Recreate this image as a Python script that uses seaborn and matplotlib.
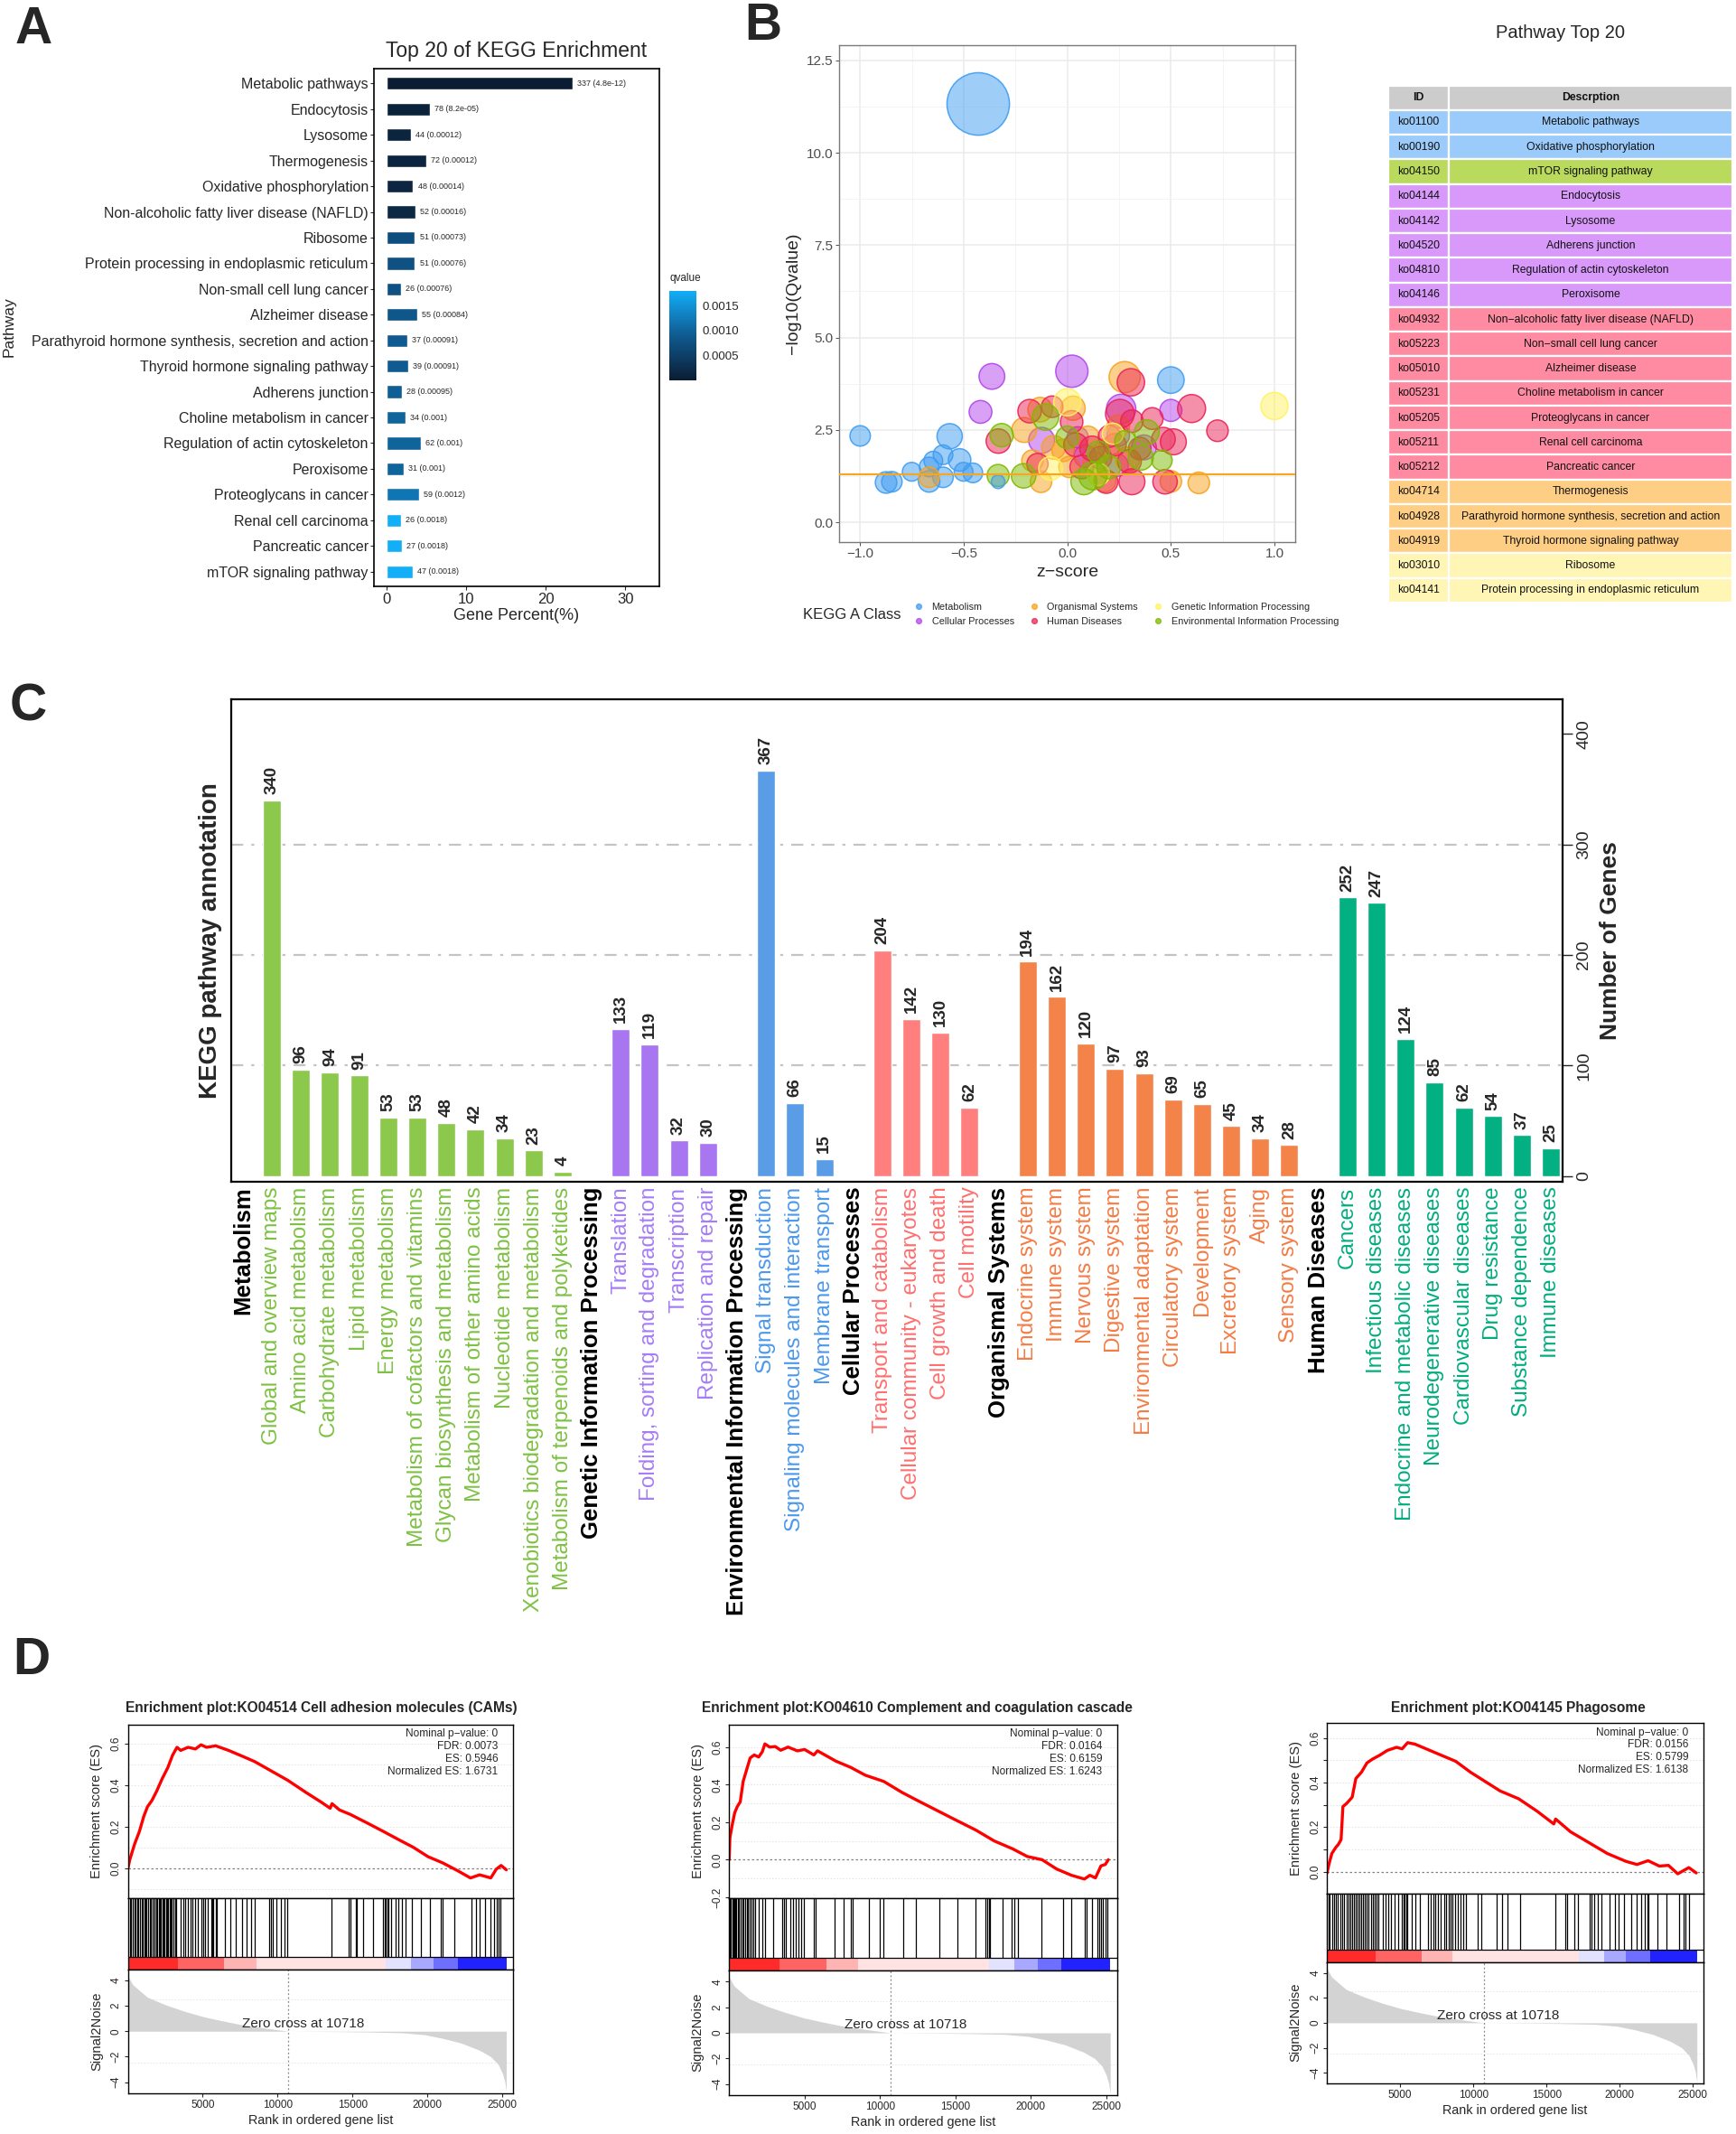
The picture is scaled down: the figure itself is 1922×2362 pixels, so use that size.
import numpy as np
import pandas as pd
import matplotlib
matplotlib.use('Agg')
import matplotlib.pyplot as plt
import seaborn as sns
from matplotlib.colors import LinearSegmentedColormap, Normalize
from matplotlib.cm import ScalarMappable
from matplotlib.lines import Line2D
from matplotlib.transforms import Bbox

sns.set_style('white')
plt.rcParams['font.family'] = ['Liberation Sans', 'DejaVu Sans']
plt.rcParams['axes.unicode_minus'] = True

W, H = 1922, 2362
fig = plt.figure(figsize=(W / 100, H / 100), dpi=100)


def px_axes(x0, y0, x1, y1):
    return fig.add_axes([x0 / W, 1 - y1 / H, (x1 - x0) / W, (y1 - y0) / H])


def ftext(x, y, s, **kw):
    return fig.text(x / W, 1 - y / H, s, **kw)


# ---------------- data: panel A ----------------
a_pathway = ['Metabolic pathways', 'Endocytosis', 'Lysosome', 'Thermogenesis', 'Oxidative phosphorylation',
             'Non-alcoholic fatty liver disease (NAFLD)', 'Ribosome', 'Protein processing in endoplasmic reticulum',
             'Non-small cell lung cancer', 'Alzheimer disease', 'Parathyroid hormone synthesis, secretion and action',
             'Thyroid hormone signaling pathway', 'Adherens junction', 'Choline metabolism in cancer',
             'Regulation of actin cytoskeleton', 'Peroxisome', 'Proteoglycans in cancer', 'Renal cell carcinoma',
             'Pancreatic cancer', 'mTOR signaling pathway']
a_count = [337, 78, 44, 72, 48, 52, 51, 51, 26, 55, 37, 39, 28, 34, 62, 31, 59, 26, 27, 47]
a_percent = [23.4, 5.42, 3.06, 5.0, 3.33, 3.61, 3.54, 3.54, 1.81, 3.82, 2.57, 2.71, 1.94, 2.36, 4.31, 2.15,
             4.1, 1.81, 1.88, 3.26]
a_qvalue = [4.8e-12, 8.2e-05, 0.00012, 0.00012, 0.00014, 0.00016, 0.00073, 0.00076, 0.00076, 0.00084, 0.00091,
            0.00091, 0.00095, 0.001, 0.001, 0.001, 0.0012, 0.0018, 0.0018, 0.0018]

# ---------------- data: panel B bubbles ----------------
b_class_names = ['Metabolism', 'Cellular Processes', 'Organismal Systems', 'Human Diseases',
                 'Genetic Information Processing', 'Environmental Information Processing']
b_bubbles = [
    # z, -log10(q), count, class
    (-0.43, 11.32, 337, 'Metabolism'), (0.50, 3.85, 48, 'Metabolism'), (-1.0, 2.34, 22, 'Metabolism'),
    (-0.875, 1.08, 26, 'Metabolism'), (-0.847, 1.10, 22, 'Metabolism'), (-0.751, 1.37, 16, 'Metabolism'),
    (-0.667, 1.11, 26, 'Metabolism'), (-0.667, 1.50, 19, 'Metabolism'), (-0.60, 1.22, 22, 'Metabolism'),
    (-0.60, 1.83, 19, 'Metabolism'), (-0.647, 1.67, 16, 'Metabolism'), (-0.568, 2.33, 42, 'Metabolism'),
    (-0.52, 1.69, 30, 'Metabolism'), (-0.501, 1.37, 16, 'Metabolism'), (-0.456, 1.34, 19, 'Metabolism'),
    (0.022, 4.09, 78, 'Cellular Processes'), (-0.364, 3.95, 44, 'Cellular Processes'),
    (0.50, 3.03, 28, 'Cellular Processes'), (0.26, 3.07, 62, 'Cellular Processes'),
    (-0.419, 2.99, 31, 'Cellular Processes'), (-0.124, 2.22, 45, 'Cellular Processes'),
    (0.246, 2.36, 30, 'Cellular Processes'), (0.37, 2.03, 40, 'Cellular Processes'),
    (0.087, 1.79, 30, 'Cellular Processes'), (0.05, 2.30, 25, 'Cellular Processes'),
    (0.24, 1.55, 30, 'Cellular Processes'),
    (0.277, 3.93, 72, 'Organismal Systems'), (-0.131, 3.05, 39, 'Organismal Systems'),
    (0.028, 3.09, 37, 'Organismal Systems'), (-0.208, 2.50, 40, 'Organismal Systems'),
    (-0.168, 1.67, 26, 'Organismal Systems'), (-0.127, 1.10, 26, 'Organismal Systems'),
    (-0.667, 1.22, 22, 'Organismal Systems'), (-0.066, 2.03, 35, 'Organismal Systems'),
    (0.246, 2.60, 30, 'Organismal Systems'), (0.29, 1.71, 38, 'Organismal Systems'),
    (0.181, 1.13, 30, 'Organismal Systems'), (0.50, 1.11, 26, 'Organismal Systems'),
    (0.635, 1.07, 26, 'Organismal Systems'), (0.01, 1.50, 25, 'Organismal Systems'),
    (0.13, 1.60, 30, 'Organismal Systems'), (0.20, 2.00, 25, 'Organismal Systems'),
    (0.10, 2.30, 30, 'Organismal Systems'), (-0.02, 1.95, 30, 'Organismal Systems'),
    (0.307, 3.79, 52, 'Human Diseases'), (0.60, 3.08, 55, 'Human Diseases'), (-0.073, 3.13, 26, 'Human Diseases'),
    (-0.182, 3.01, 34, 'Human Diseases'), (0.254, 2.94, 59, 'Human Diseases'), (0.725, 2.48, 26, 'Human Diseases'),
    (0.41, 2.81, 27, 'Human Diseases'), (-0.333, 2.20, 38, 'Human Diseases'), (0.512, 2.18, 45, 'Human Diseases'),
    (0.464, 2.25, 35, 'Human Diseases'), (0.312, 2.74, 30, 'Human Diseases'), (0.021, 2.72, 30, 'Human Diseases'),
    (0.203, 2.33, 28, 'Human Diseases'), (0.30, 1.65, 35, 'Human Diseases'), (0.188, 1.10, 33, 'Human Diseases'),
    (0.312, 1.10, 45, 'Human Diseases'), (0.472, 1.10, 38, 'Human Diseases'), (-0.144, 1.58, 25, 'Human Diseases'),
    (0.04, 2.10, 35, 'Human Diseases'), (0.23, 2.10, 30, 'Human Diseases'), (0.12, 2.00, 40, 'Human Diseases'),
    (0.35, 2.00, 30, 'Human Diseases'), (0.07, 1.50, 35, 'Human Diseases'), (0.16, 1.75, 30, 'Human Diseases'),
    (1.0, 3.15, 51, 'Genetic Information Processing'), (0.0, 3.25, 51, 'Genetic Information Processing'),
    (-0.081, 1.46, 35, 'Genetic Information Processing'), (0.15, 1.30, 30, 'Genetic Information Processing'),
    (0.22, 2.40, 25, 'Genetic Information Processing'),
    (-0.105, 2.85, 47, 'Environmental Information Processing'), (-0.317, 2.36, 33, 'Environmental Information Processing'),
    (-0.334, 1.27, 28, 'Environmental Information Processing'), (-0.211, 1.26, 38, 'Environmental Information Processing'),
    (0.384, 2.44, 40, 'Environmental Information Processing'), (0.355, 1.75, 40, 'Environmental Information Processing'),
    (0.457, 1.68, 22, 'Environmental Information Processing'), (0.123, 1.26, 55, 'Environmental Information Processing'),
    (0.0, 2.30, 30, 'Environmental Information Processing'), (0.28, 2.20, 25, 'Environmental Information Processing'),
    (0.08, 1.10, 45, 'Environmental Information Processing'), (0.15, 1.90, 30, 'Environmental Information Processing'),
    (0.20, 1.50, 35, 'Environmental Information Processing'),
    (-0.334, 1.10, 1, 'Metabolism'),
]
b_threshold = 1.3

# ---------------- data: table ----------------
t_id = ['ko01100', 'ko00190', 'ko04150', 'ko04144', 'ko04142', 'ko04520', 'ko04810', 'ko04146', 'ko04932',
        'ko05223', 'ko05010', 'ko05231', 'ko05205', 'ko05211', 'ko05212', 'ko04714', 'ko04928', 'ko04919',
        'ko03010', 'ko04141']
t_desc = ['Metabolic pathways', 'Oxidative phosphorylation', 'mTOR signaling pathway', 'Endocytosis', 'Lysosome',
          'Adherens junction', 'Regulation of actin cytoskeleton', 'Peroxisome',
          'Non\u2212alcoholic fatty liver disease (NAFLD)', 'Non\u2212small cell lung cancer', 'Alzheimer disease',
          'Choline metabolism in cancer', 'Proteoglycans in cancer', 'Renal cell carcinoma', 'Pancreatic cancer',
          'Thermogenesis', 'Parathyroid hormone synthesis, secretion and action', 'Thyroid hormone signaling pathway',
          'Ribosome', 'Protein processing in endoplasmic reticulum']
t_class = ['M', 'M', 'E', 'C', 'C', 'C', 'C', 'C', 'H', 'H', 'H', 'H', 'H', 'H', 'H', 'O', 'O', 'O', 'G', 'G']

# ---------------- data: panel C ----------------
kegg_classes = ['Metabolism', 'Genetic Information Processing', 'Environmental Information Processing',
                'Cellular Processes', 'Organismal Systems', 'Human Diseases']
c_term = ['Global and overview maps', 'Amino acid metabolism', 'Carbohydrate metabolism', 'Lipid metabolism',
          'Energy metabolism', 'Metabolism of cofactors and vitamins', 'Glycan biosynthesis and metabolism',
          'Metabolism of other amino acids', 'Nucleotide metabolism', 'Xenobiotics biodegradation and metabolism',
          'Metabolism of terpenoids and polyketides',
          'Translation', 'Folding, sorting and degradation', 'Transcription', 'Replication and repair',
          'Signal transduction', 'Signaling molecules and interaction', 'Membrane transport',
          'Transport and catabolism', 'Cellular community - eukaryotes', 'Cell growth and death', 'Cell motility',
          'Endocrine system', 'Immune system', 'Nervous system', 'Digestive system', 'Environmental adaptation',
          'Circulatory system', 'Development', 'Excretory system', 'Aging', 'Sensory system',
          'Cancers', 'Infectious diseases', 'Endocrine and metabolic diseases', 'Neurodegenerative diseases',
          'Cardiovascular diseases', 'Drug resistance', 'Substance dependence', 'Immune diseases']
c_count = [340, 96, 94, 91, 53, 53, 48, 42, 34, 23, 4,
           133, 119, 32, 30,
           367, 66, 15,
           204, 142, 130, 62,
           194, 162, 120, 97, 93, 69, 65, 45, 34, 28,
           252, 247, 124, 85, 62, 54, 37, 25]
c_class = (['Metabolism'] * 11 + ['Genetic Information Processing'] * 4 +
           ['Environmental Information Processing'] * 3 + ['Cellular Processes'] * 4 +
           ['Organismal Systems'] * 10 + ['Human Diseases'] * 8)

# ---------------- data: panel D ----------------
s2n_points = [(0, 4.35), (323, 3.66), (816, 3.16), (1307, 2.67), (2540, 2.06), (3773, 1.57), (5006, 1.15),
              (6240, 0.83), (7473, 0.54), (8706, 0.32), (9939, 0.12), (10718, 0.0), (12000, -0.01),
              (14000, -0.03), (16000, -0.06), (18300, -0.12), (19800, -0.27), (21036, -0.56), (22268, -0.93),
              (23500, -1.5), (24242, -2.0), (24735, -2.6), (25031, -3.34), (25180, -3.95), (25280, -4.75)]
zero_cross = 10718
band_edges = [0, 3327, 6449, 8564, 17224, 18936, 20447, 22058, 25281]

d1_es = [(0, 0.0), (125, 0.042), (445, 0.117), (765, 0.177), (1060, 0.25), (1307, 0.296), (1603, 0.326),
         (1923, 0.371), (2293, 0.431), (2663, 0.483), (2984, 0.543), (3280, 0.581), (3526, 0.566), (4020, 0.581),
         (4513, 0.573), (4883, 0.593), (5253, 0.581), (5869, 0.588), (6732, 0.566), (7719, 0.536), (8458, 0.513),
         (9445, 0.473), (10678, 0.423), (11911, 0.364), (12898, 0.319), (13514, 0.289), (13637, 0.311),
         (14131, 0.281), (14870, 0.259), (16103, 0.214), (17090, 0.177), (18076, 0.139), (19063, 0.102),
         (20049, 0.057), (21036, 0.027), (22022, -0.010), (22885, -0.045), (23502, -0.030), (24242, -0.045),
         (24612, -0.003), (24932, 0.015), (25280, -0.006)]
d2_es = [(0, 0.0), (49, 0.117), (195, 0.183), (366, 0.25), (537, 0.283), (733, 0.308), (928, 0.417),
         (1172, 0.483), (1392, 0.542), (1661, 0.558), (1954, 0.547), (2198, 0.575), (2369, 0.617), (2686, 0.60),
         (3053, 0.603), (3419, 0.583), (3907, 0.60), (4518, 0.58), (5006, 0.587), (5617, 0.558), (5861, 0.58),
         (6349, 0.558), (7082, 0.525), (8059, 0.492), (9035, 0.45), (10256, 0.417), (11477, 0.358),
         (12454, 0.317), (13675, 0.267), (14896, 0.217), (16361, 0.158), (17582, 0.10), (18803, 0.058),
         (19780, 0.017), (20757, 0.0), (21734, -0.05), (22711, -0.083), (23565, -0.103), (23932, -0.083),
         (24298, -0.097), (24664, -0.033), (24957, -0.025), (25153, 0.0)]
d3_es = [(0, -0.006), (152, 0.039), (329, 0.081), (582, 0.107), (784, 0.123), (961, 0.144), (1087, 0.292),
         (1340, 0.306), (1719, 0.334), (1972, 0.418), (2351, 0.446), (2731, 0.488), (3110, 0.505), (3616, 0.523),
         (4121, 0.544), (4753, 0.558), (5133, 0.551), (5512, 0.579), (6018, 0.572), (6776, 0.551), (7788, 0.523),
         (8799, 0.495), (9810, 0.446), (10822, 0.404), (11833, 0.362), (13097, 0.327), (14361, 0.271),
         (15499, 0.214), (15626, 0.236), (16637, 0.179), (17901, 0.130), (19166, 0.081), (20430, 0.046),
         (21188, 0.032), (21947, 0.049), (22706, 0.025), (23338, 0.028), (23970, -0.010), (24728, 0.018),
         (25234, -0.006)]

d1_hits = [126, 224, 323, 422, 520, 619, 718, 816, 915, 1014, 1112, 1186, 1260, 1359, 1458, 1556, 1655, 1754,
           1803, 1902, 1976, 2049, 2123, 2197, 2296, 2370, 2444, 2543, 2617, 2691, 2790, 2864, 2938, 3036, 3135,
           3234, 3530, 3703, 3851, 4023, 4196, 4319, 4516, 4689, 4886, 5059, 5182, 5330, 5552, 5626, 5700, 5848,
           5947, 6489, 6859, 7228, 7598, 7919, 8215, 8462, 9448, 9572, 9695, 9942, 10238, 10435, 10657, 13592,
           14751, 14874, 15244, 15318, 15738, 16403, 17045, 17143, 17242, 17340, 17414, 17587, 17907, 18080,
           18327, 18573, 18943, 19560, 20176, 20916, 21039, 21828, 22962, 23258, 23505, 23875, 24245, 24491,
           24664, 24787, 24861]
d2_hits = [49, 122, 195, 269, 342, 415, 488, 562, 659, 757, 855, 952, 1050, 1172, 1270, 1368, 1465, 1587, 1709,
           1954, 2198, 2393, 2930, 3541, 3663, 3785, 4029, 4225, 4396, 4591, 4762, 4933, 5617, 5739, 7009, 7619,
           8059, 8181, 9280, 10012, 10208, 11551, 12357, 13919, 15140, 16361, 16972, 17094, 17216, 17289, 18120,
           18755, 18926, 19170, 20708, 22174, 22711, 23565, 23687, 24054, 24420, 24542, 24664, 24786, 24957, 25079]
d3_hits = [101, 202, 329, 455, 607, 758, 885, 1011, 1163, 1315, 1441, 1567, 1719, 1845, 1972, 2098, 2225, 2351,
           2477, 2604, 2730, 2857, 2983, 3109, 3236, 3362, 3489, 3792, 3994, 4196, 4373, 4626, 4879, 5132, 5208,
           5309, 5410, 5511, 5764, 6017, 6320, 6901, 7078, 7281, 7407, 7584, 7786, 7988, 8165, 8292, 8418, 8545,
           8747, 8924, 9101, 9303, 9505, 10314, 10516, 11578, 11957, 12336, 13221, 15623, 16255, 16432, 16887,
           17140, 17949, 18100, 18278, 18530, 18783, 19289, 19668, 19921, 20300, 20805, 21184, 21488, 21741,
           21892, 21994, 22575, 23207, 24092, 24345, 24522, 24725]

d_titles = ['Enrichment plot:KO04514 Cell adhesion molecules (CAMs)',
            'Enrichment plot:KO04610 Complement and coagulation cascades',
            'Enrichment plot:KO04145 Phagosome']
d_stats = [['Nominal p\u2212value: 0', 'FDR: 0.0073', 'ES: 0.5946', 'Normalized ES: 1.6731'],
           ['Nominal p\u2212value: 0', 'FDR: 0.0164', 'ES: 0.6159', 'Normalized ES: 1.6243'],
           ['Nominal p\u2212value: 0', 'FDR: 0.0156', 'ES: 0.5799', 'Normalized ES: 1.6138']]

# ---------------- styles ----------------
q_cmap = LinearSegmentedColormap.from_list('qv', ['#0B1D33', '#0F5A90', '#12AEF8'])
q_norm = Normalize(0, 0.0018)
b_palette = {'Metabolism': '#3F9DF2', 'Cellular Processes': '#B345EE', 'Organismal Systems': '#F9A21B',
             'Human Diseases': '#EC2356', 'Genetic Information Processing': '#FFF35E',
             'Environmental Information Processing': '#7DBA00'}
t_colors = {'M': '#9ACBFA', 'E': '#B9DA5C', 'C': '#D899FB', 'H': '#FF8BA3', 'O': '#FFCE85', 'G': '#FFF5B5'}
c_bar_colors = {'Metabolism': '#8CC84B', 'Genetic Information Processing': '#A876F0',
                'Environmental Information Processing': '#5A9DE6', 'Cellular Processes': '#FF7F7F',
                'Organismal Systems': '#F4834A', 'Human Diseases': '#03B082'}
c_lbl_colors = {'Metabolism': '#7DC142', 'Genetic Information Processing': '#A67CF5',
                'Environmental Information Processing': '#4B98EC', 'Cellular Processes': '#FF6F6F',
                'Organismal Systems': '#F47C45', 'Human Diseases': '#00AD7E'}
band_colors = ['#FF2B2B', '#FF6464', '#FFB4B4', '#FFE2E2', '#E2E2FF', '#A8A8FF', '#6E6EFF', '#2222FF']

# ---------------- panel letters ----------------
for letter, x, y in [('A', 17, 48), ('B', 824, 44), ('C', 11, 797), ('D', 14, 1853)]:
    ftext(x, y, letter, fontsize=41, fontweight='bold', ha='left', va='baseline')

# ================= Panel A =================
ax_a = px_axes(414, 76, 730, 649)
a_pal = {p: q_cmap(q_norm(q)) for p, q in zip(a_pathway, a_qvalue)}
sns.barplot(x=a_percent, y=a_pathway, hue=a_pathway, palette=a_pal, legend=False, width=0.5,
            saturation=1, orient='h', ax=ax_a)
for i, (p, n, q) in enumerate(zip(a_percent, a_count, a_qvalue)):
    ax_a.text(p + 0.6, i, f'{n} ({q:.2g})', va='center', ha='left', fontsize=6.5)
ax_a.set_xlim(-1.6, 34.3)
ax_a.set_ylim(19.575, -0.575)
ax_a.set_xticks([0, 10, 20, 30])
ax_a.set_xlabel('')
ax_a.set_ylabel('')
ax_a.tick_params(axis='y', labelsize=11.5, length=3, width=0.8, left=True, pad=1.5)
ax_a.tick_params(axis='x', labelsize=12, length=3, width=0.8, bottom=True, pad=2)
for sp in ax_a.spines.values():
    sp.set_color('black')
    sp.set_linewidth(1.2)
ftext(572, 56, 'Top 20 of KEGG Enrichment', fontsize=16.5, ha='center', va='center')
ftext(572, 681, 'Gene Percent(%)', fontsize=13, ha='center', va='center')
ftext(10, 362, 'Pathway', fontsize=12.5, rotation=90, ha='center', va='center')

cax = px_axes(741, 322, 771, 421)
cb = fig.colorbar(ScalarMappable(norm=q_norm, cmap=q_cmap), cax=cax)
cb.set_ticks([0.0005, 0.001, 0.0015])
cb.ax.set_yticklabels(['0.0005', '0.0010', '0.0015'])
cb.ax.tick_params(axis='y', direction='in', left=True, right=True, color='white', length=4, width=0.8,
                  labelsize=9.5, pad=5)
cb.outline.set_visible(False)
ftext(741, 308, 'qvalue', fontsize=8.5, ha='left', va='center')

# ================= Panel B =================
ax_b = px_axes(929.4, 50, 1433.9, 599.5)
dfb = pd.DataFrame(b_bubbles, columns=['z', 'q', 'count', 'cls'])
sns.scatterplot(data=dfb, x='z', y='q', hue='cls', hue_order=b_class_names, palette=b_palette,
                size='count', sizes=(117, 2480), size_norm=(1, 337), legend=False, linewidth=1.1, ax=ax_b,
                zorder=3)
coll = ax_b.collections[-1]
fc = np.array(coll.get_facecolors())
ec = fc.copy()
fc[:, 3] = 0.5
ec[:, 3] = 0.9
coll.set_facecolors(fc)
coll.set_edgecolors(ec)
ax_b.axhline(b_threshold, color='#F5A623', lw=1.6, zorder=4)
ax_b.set_xlim(-1.1, 1.1)
ax_b.set_ylim(-0.52, 12.91)
ax_b.set_xticks([-1.0, -0.5, 0.0, 0.5, 1.0])
ax_b.set_xticklabels(['\u22121.0', '\u22120.5', '0.0', '0.5', '1.0'])
ax_b.set_yticks([0, 2.5, 5.0, 7.5, 10.0, 12.5])
ax_b.set_yticklabels(['0.0', '2.5', '5.0', '7.5', '10.0', '12.5'])
ax_b.set_xticks([-0.75, -0.25, 0.25, 0.75], minor=True)
ax_b.set_yticks([1.25, 3.75, 6.25, 8.75, 11.25], minor=True)
ax_b.grid(which='major', color='#EBEBEB', lw=1.1)
ax_b.grid(which='minor', color='#F3F3F3', lw=0.6)
ax_b.set_axisbelow(True)
ax_b.tick_params(which='major', labelsize=11, labelcolor='#4D4D4D', color='#4D4D4D', length=3, width=0.7,
                 bottom=True, left=True, pad=2)
ax_b.tick_params(which='minor', length=0)
ax_b.set_xlabel('')
ax_b.set_ylabel('')
for sp in ax_b.spines.values():
    sp.set_color('#7A7A7A')
    sp.set_linewidth(1.0)
ftext(879, 325, '\u2212log10(Qvalue)', fontsize=14, rotation=90, ha='center', va='center')
ftext(1181.6, 633, 'z\u2212score', fontsize=14, ha='center', va='center')

ftext(889, 680, 'KEGG A Class', fontsize=12, ha='left', va='center')
leg_handles = [Line2D([0], [0], marker='o', ls='none', markersize=4.2, markerfacecolor=b_palette[k],
                      markeredgecolor=b_palette[k], alpha=0.75, label=k) for k in b_class_names]
fig.legend(handles=leg_handles, ncol=3, loc='center left', bbox_to_anchor=(1012 / W, 1 - 680 / H),
           frameon=False, fontsize=7.8, handlelength=0.9, handletextpad=0.9, columnspacing=1.6,
           labelspacing=0.6, borderpad=0, borderaxespad=0)

# ---------------- table ----------------
ftext(1728, 36, 'Pathway Top 20', fontsize=14.5, ha='center', va='center')
ax_t = px_axes(1537, 94.6, 1918, 667)
ax_t.axis('off')
tbl = ax_t.table(cellText=[[i, d] for i, d in zip(t_id, t_desc)], colLabels=['ID', 'Descrption'],
                 colWidths=[67 / 381, 314 / 381], cellColours=[[t_colors[k]] * 2 for k in t_class],
                 colColours=['#CCCCCC', '#CCCCCC'], cellLoc='center', bbox=[0, 0, 1, 1])
tbl.auto_set_font_size(False)
tbl.set_fontsize(8.8)
for (r, c), cell in tbl.get_celld().items():
    cell.set_edgecolor('white')
    cell.set_linewidth(1.6)
    cell.get_text().set_color('#111111')
    if r == 0:
        cell.get_text().set_fontweight('bold')

# ================= Panel C =================
ax_c = px_axes(256, 773.6, 1730, 1308)
c_order = []
for k in kegg_classes:
    c_order.append(k)
    c_order += [t for t, cl in zip(c_term, c_class) if cl == k]
dfc = pd.DataFrame({'term': c_term, 'count': c_count, 'cls': c_class})
for g in [100, 200, 300]:
    ax_c.axhline(g, color='#C4C4C4', lw=1.6, ls=(0, (6, 4, 1.5, 4)), zorder=0)
sns.barplot(data=dfc, x='term', y='count', hue='cls', hue_order=kegg_classes, palette=c_bar_colors,
            order=c_order, width=0.62, dodge=False, legend=False, saturation=1, ax=ax_c, zorder=2)
cnt = dict(zip(c_term, c_count))
for i, t in enumerate(c_order):
    if t in cnt:
        ax_c.text(i, cnt[t] + 5.5, str(cnt[t]), rotation=90, ha='center', va='bottom', fontsize=13.5,
                  fontweight='bold')
ax_c.set_xlim(-0.4, 45.4)
ax_c.set_ylim(-5.3, 431.7)
ax_c.set_xticks(range(len(c_order)))
ax_c.set_xticklabels(c_order, rotation=90, ha='center', va='top')
cls_of = dict(zip(c_term, c_class))
for lbl, t in zip(ax_c.get_xticklabels(), c_order):
    if t in cls_of:
        lbl.set_color(c_lbl_colors[cls_of[t]])
        lbl.set_fontsize(17.5)
    else:
        lbl.set_color('black')
        lbl.set_fontweight('bold')
        lbl.set_fontsize(18.5)
ax_c.tick_params(axis='x', length=0, pad=4)
ax_c.yaxis.tick_right()
ax_c.set_yticks([0, 100, 200, 300, 400])
ax_c.tick_params(axis='y', labelsize=14, length=8, width=1, pad=3, labelrotation=90, right=True, left=False)
for lbl in ax_c.get_yticklabels():
    lbl.set_va('center')
ax_c.set_xlabel('')
ax_c.set_ylabel('')
for sp in ax_c.spines.values():
    sp.set_color('black')
    sp.set_linewidth(1.6)
ftext(233, 1041, 'KEGG pathway annotation', fontsize=20, fontweight='bold', rotation=90, ha='center', va='center')
ftext(1783, 1041, 'Number of Genes', fontsize=19, fontweight='bold', rotation=90, ha='center', va='center')


# ================= Panel D =================
def gsea(x0, x1, y0, y1, y2, y3, es_pts, hits, es_lim, s2n_lim, es_ticks, es_minor, title, title_x, stats,
         clip_right=None):
    ax_es = px_axes(x0, y0, x1, y1)
    ax_hit = px_axes(x0, y1, x1, y2)
    ax_sn = px_axes(x0, y2, x1, y3)
    for ax in (ax_es, ax_hit, ax_sn):
        ax.set_xlim(0, 25730)
        for sp in ax.spines.values():
            sp.set_color('black')
            sp.set_linewidth(1.0)
    # running enrichment score
    for g in [-0.1, 0.1, 0.2, 0.3, 0.4, 0.5, 0.6]:
        ax_es.axhline(g, color='#E2E2E2', lw=0.7, ls=(0, (1.5, 2)), zorder=0)
    ax_es.axhline(0, color='#808080', lw=0.9, ls=(0, (2, 2)), zorder=1)
    er, ev = zip(*es_pts)
    sns.lineplot(x=list(er), y=list(ev), color='#FF0000', lw=2.4, sort=False, estimator=None, ax=ax_es)
    ax_es.set_ylim(*es_lim)
    ax_es.set_yticks(es_ticks)
    ax_es.set_yticklabels([f'{v:.1f}'.replace('-', '\u2212') for v in es_ticks])
    if es_minor:
        ax_es.set_yticks(es_minor, minor=True)
    ax_es.set_xticks([])
    ax_es.tick_params(axis='y', which='both', labelrotation=90, labelsize=8.5, length=3, width=0.8, left=True,
                      pad=2)
    for lbl in ax_es.get_yticklabels():
        lbl.set_va('center')
    ax_es.set_xlabel('')
    ax_es.set_ylabel('')
    # hits and ranked-metric colour bar
    ax_hit.vlines(hits, 0.176, 1, color='black', lw=0.9)
    for e0, e1, col in zip(band_edges[:-1], band_edges[1:], band_colors):
        ax_hit.axvspan(e0, e1, ymin=0, ymax=0.176, color=col, lw=0)
    ax_hit.axhline(0.176, color='black', lw=0.9)
    ax_hit.set_ylim(0, 1)
    ax_hit.set_xticks([])
    ax_hit.set_yticks([])
    # ranked list metric
    sr, sv = zip(*s2n_points)
    ax_sn.fill_between(sr, sv, 0, color='#D3D3D3', lw=0)
    for g in [2.5, -2.5]:
        ax_sn.axhline(g, color='#E6E6E6', lw=0.7, ls=(0, (1.5, 2)), zorder=0)
    ax_sn.axvline(zero_cross, color='#888888', lw=0.9, ls=(0, (1.5, 2)))
    ax_sn.text(11700, 0.6, f'Zero cross at {zero_cross}', ha='center', va='center', fontsize=11)
    ax_sn.set_ylim(*s2n_lim)
    ax_sn.set_yticks([-4, -2, 0, 2, 4])
    ax_sn.set_yticklabels(['\u22124', '\u22122', '0', '2', '4'])
    ax_sn.set_xticks([5000, 10000, 15000, 20000, 25000])
    ax_sn.tick_params(axis='y', labelrotation=90, labelsize=8.5, length=3, width=0.8, left=True, pad=2)
    ax_sn.tick_params(axis='x', labelsize=8.5, length=3, width=0.8, bottom=True, pad=2)
    for lbl in ax_sn.get_yticklabels():
        lbl.set_va('center')
    # texts
    t = ftext(title_x, 1891, title, fontsize=11.2, fontweight='bold', ha='left', va='center')
    if clip_right is not None:
        t.set_clip_box(Bbox.from_extents(0, 0, clip_right, H))
        t.set_clip_on(True)
    for j, s in enumerate(stats):
        ftext(x1 - 16.5, y0 + 10.5 + 13.85 * j, s, fontsize=8.6, ha='right', va='center')
    ftext(x0 - 34.6, (y0 + y1) / 2, 'Enrichment score (ES)', fontsize=10.6, rotation=90, ha='center', va='center')
    ftext(x0 - 34.6, (y2 + y3) / 2, 'Signal2Noise', fontsize=10.6, rotation=90, ha='center', va='center')
    ftext((x0 + x1) / 2, y3 + 30, 'Rank in ordered gene list', fontsize=10.4, ha='center', va='center')


gsea(141.6, 568, 1908.8, 2101, 2179.5, 2316.7, d1_es, d1_hits, (-0.142, 0.69), (-4.86, 4.88),
     [0.0, 0.2, 0.4, 0.6], None, d_titles[0], 139, d_stats[0])
gsea(807.3, 1236.7, 1908.8, 2101, 2180.5, 2318.8, d2_es, d2_hits, (-0.205, 0.72), (-4.85, 4.9),
     [-0.2, 0.0, 0.2, 0.4, 0.6], None, d_titles[1], 777, d_stats[1], clip_right=1254)
gsea(1469.2, 1886, 1907.1, 2095.5, 2171.5, 2305.6, d3_es, d3_hits, (-0.097, 0.667), (-4.82, 4.87),
     [0.0, 0.2, 0.4, 0.6], [0.1, 0.3, 0.5], d_titles[2], 1540, d_stats[2])

fig.savefig('out.png', dpi=100)
